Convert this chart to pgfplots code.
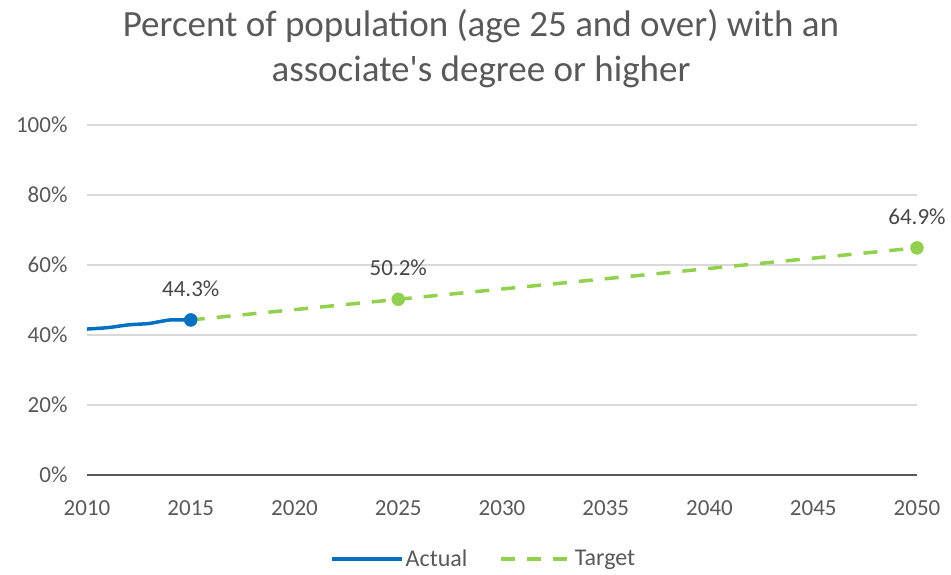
\documentclass[border=0pt]{standalone}
\usepackage{pgfplots}
\pgfplotsset{compat=1.18}
\usepackage{fontspec}
\setmainfont{Carlito}
\definecolor{actual}{HTML}{0070C0}
\definecolor{target}{HTML}{92D050}
\definecolor{txt}{HTML}{595959}
\definecolor{gridc}{HTML}{D9D9D9}
\begin{document}
\begin{tikzpicture}
\begin{axis}[
  name=ax,
  scale only axis,
  width=830pt, height=350pt,
  xmin=2010, xmax=2050, ymin=0, ymax=100,
  xtick={2010,2015,...,2050},
  ytick={0,20,...,100},
  yticklabel={\pgfmathprintnumber{\tick}\%},
  xticklabel style={/pgf/number format/1000 sep={}},
  /pgf/number format/assume math mode=true,
  tick style={draw=none},
  ymajorgrids, xmajorgrids=false,
  grid style={draw=gridc, line width=1.2pt},
  axis x line*=bottom, axis y line*=left,
  x axis line style={draw=gray!70!black, line width=1.2pt, -},
  y axis line style={draw=none},
  ticklabel style={font=\fontsize{23}{27}\selectfont, text=txt},
  xticklabel style={yshift=-22pt},
  yticklabel style={xshift=-16pt},
  clip=false,
  legend style={at={(0.478,-0.24)}, anchor=center, draw=none, legend columns=2,
    font=\fontsize{24}{28}\selectfont, text=txt,
    /tikz/every even column/.append style={column sep=30pt}},
  legend image code/.code={\draw[#1] (0pt,0pt) -- (70pt,0pt);},
]
\addplot[actual, line width=3.5pt, smooth, tension=0.4] coordinates {
  (2010,41.7) (2011,42.1) (2012,42.9) (2013,43.3) (2014,44.3) (2015,44.3)};
\addlegendentry{Actual}
\addplot[target, line width=3.5pt, dash pattern=on 14pt off 12pt] coordinates {
  (2015,44.3) (2025,50.2) (2050,64.9)};
\addlegendentry{Target}
\addplot[only marks, mark=*, mark size=6.5pt, actual, forget plot] coordinates {(2015,44.3)};
\addplot[only marks, mark=*, mark size=6.5pt, target, forget plot,
  nodes near coords={\pgfmathprintnumber[fixed,precision=1,fixed zerofill]{\pgfplotspointmeta}\%},
  point meta=explicit,
  every node near coord/.append style={font=\fontsize{23}{27}\selectfont, text=txt!80!black, yshift=20pt}]
  coordinates {(2025,50.2) [50.2] (2050,64.9) [64.9]};
\addplot[only marks, mark=none, forget plot,
  nodes near coords={\pgfmathprintnumber[fixed,precision=1,fixed zerofill]{\pgfplotspointmeta}\%},
  point meta=explicit,
  every node near coord/.append style={font=\fontsize{23}{27}\selectfont, text=txt!80!black, yshift=20pt}]
  coordinates {(2015,44.3) [44.3]};
\end{axis}
\node[align=center, font=\fontsize{37}{45}\selectfont, text=txt, anchor=north] at ([xshift=-21pt,yshift=119pt]ax.north) {Percent of population (age 25 and over) with an\\associate\textquotesingle s degree or higher};
\path[use as bounding box] ([shift={(-87pt,-99pt)}]ax.south west) rectangle ([shift={(34pt,125pt)}]ax.north east);
\end{tikzpicture}
\end{document}
